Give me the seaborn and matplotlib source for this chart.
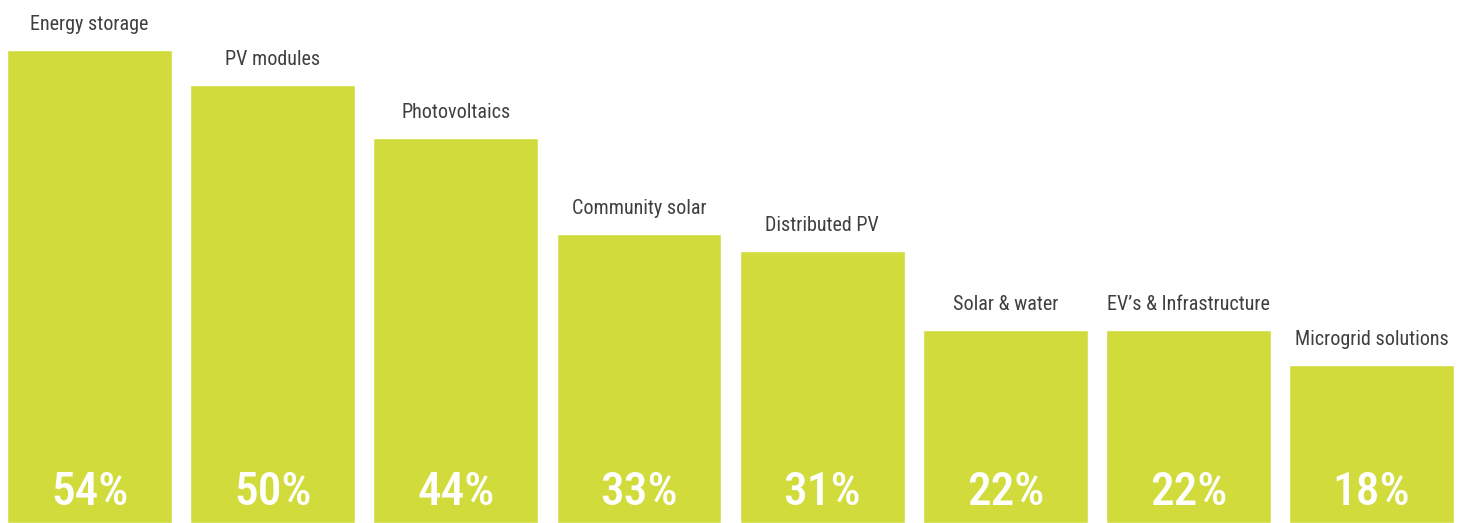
import matplotlib
matplotlib.use("Agg")
import matplotlib.pyplot as plt
import seaborn as sns
import pandas as pd

# Data
categories = ["Energy storage", "PV modules", "Photovoltaics", "Community solar",
              "Distributed PV", "Solar & water", "EV\u2019s & Infrastructure",
              "Microgrid solutions"]
shares = [54, 50, 44, 33, 31, 22, 22, 18]

bar_color = "#D1DC3C"
label_color = "#3f3f42"

sns.set_theme(style="white")
plt.rcParams['font.family'] = ['Roboto Condensed', 'Liberation Sans Narrow',
                               'Roboto', 'DejaVu Sans']

df = pd.DataFrame({"category": categories, "share": shares})

fig = plt.figure(figsize=(14.6, 5.23), dpi=100)
ax = fig.add_axes([0, 0, 1, 1])
sns.barplot(data=df, x="category", y="share", color=bar_color, width=0.9,
            saturation=1, ax=ax)

ax.set_xlim(-0.489, 7.483)
ax.set_ylim(0, 59.7)
ax.axis("off")

for i, v in enumerate(shares):
    # category name above the bar
    ax.annotate(categories[i], (i, v), xytext=(0, 20), textcoords="offset pixels",
                ha="center", va="baseline", fontsize=14.5, color=label_color)
    # percentage at the bottom in white
    ax.annotate(f"{v}%", (i, 0), xytext=(0, 18), textcoords="offset pixels",
                ha="center", va="baseline", fontsize=34, color="white",
                fontweight="medium")

fig.savefig("out.png", dpi=100)
